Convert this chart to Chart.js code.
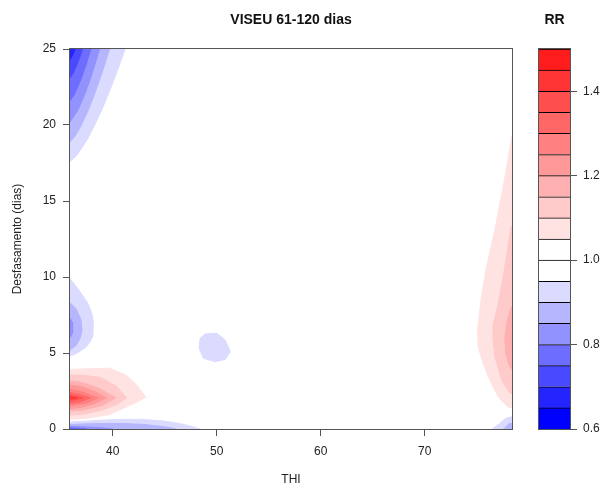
<!DOCTYPE html>
<html>
<head>
<meta charset="utf-8">
<script src="https://cdn.jsdelivr.net/npm/chart.js@4.4.1/dist/chart.umd.min.js"></script>
<style>
  html, body { margin: 0; padding: 0; background: #fff; }
  #wrap { position: relative; width: 608px; height: 486px; }
  #main { position: absolute; left: 0; top: 0; }
  #bar { position: absolute; left: 520px; top: 0; }
</style>
</head>
<body>
<div id="wrap">
  <canvas id="main" width="608" height="486"></canvas>
  <canvas id="bar" width="88" height="486"></canvas>
</div>
<script>
// RR contour breaks and fill colours (one colour per band, bottom to top)
const rrBreaks = [0.6, 0.65, 0.7, 0.75, 0.8, 0.85, 0.9, 0.95, 1.0, 1.05,
                  1.1, 1.15, 1.2, 1.25, 1.3, 1.35, 1.4, 1.45, 1.5];
const rrColors = ['#0000FF', '#2424FF', '#4949FF', '#6D6DFF', '#9292FF', '#B6B6FF', '#DBDBFF',
                  '#FFFFFF', '#FFFFFF',
                  '#FFE3E3', '#FFCACA', '#FFB1B1', '#FF9898', '#FF8080', '#FF6767', '#FF4E4E', '#FF3535', '#FF1C1C'];

const thiTicks = [40, 50, 60, 70];
const lagTicks = [0, 5, 10, 15, 20, 25];
const rrTicks = [0.6, 0.8, 1.0, 1.2, 1.4];

// contour regions: [band index, [[THI, lag], ...]], outer level first
const topLeftBlue = [
  [6, [[35, 26], [41.7, 26], [41.2, 25], [40.68, 24], [40.14, 23], [39.57, 22], [38.96, 21], [38.28, 20], [37.52, 19], [36.55, 18], [35.9, 17.6], [35, 17.6]]],
  [5, [[35, 26], [40.1, 26], [39.7, 25], [39.25, 24], [38.76, 23], [38.24, 22], [37.67, 21], [37.0, 20], [36.42, 19.3], [35.9, 18.9], [35, 18.9]]],
  [4, [[35, 26], [39.1, 26], [38.75, 25], [38.31, 24], [37.84, 23], [37.31, 22], [36.68, 21], [35.9, 20.2], [35, 20.2]]],
  [3, [[35, 26], [38.2, 26], [37.9, 25], [37.46, 24], [36.95, 23], [36.31, 22], [35.9, 21.6], [35, 21.6]]],
  [2, [[35, 26], [37.3, 26], [37.1, 25], [36.86, 24.5], [36.59, 24], [36.27, 23.5], [35.9, 23.1], [35, 23.1]]],
  [1, [[35, 26], [36.5, 26], [36.4, 25], [36.15, 24.6], [35.9, 24.3], [35, 24.3]]]
];
const leftMidBlue = [
  [6, [[35, 10], [35.9, 9.9], [36.8, 9.1], [37.6, 8.3], [38.0, 7.6], [38.15, 7.0], [38.1, 6.1], [37.8, 5.7], [37.45, 5.4], [36.5, 4.95], [35.9, 4.8], [35, 4.8]]],
  [5, [[35, 8.4], [35.9, 8.3], [36.5, 7.9], [36.95, 7.2], [37.05, 6.5], [36.9, 6.0], [36.5, 5.5], [35.9, 5.2], [35, 5.2]]],
  [4, [[35, 7.3], [35.9, 7.3], [36.15, 7.0], [36.15, 6.3], [35.9, 6.0], [35, 6.0]]]
];
const lowLagRed = [
  [9, [[35, 3.9], [37, 3.95], [39.7, 4.0], [41.3, 3.55], [42.3, 2.9], [43.2, 2.1], [42.3, 1.75], [41.3, 1.45], [39.7, 0.95], [37.5, 0.7], [35, 0.6]]],
  [10, [[35, 3.55], [37, 3.55], [38.8, 3.4], [40.3, 2.85], [41.35, 2.05], [40.4, 1.6], [38.8, 1.2], [37, 0.95], [35, 0.9]]],
  [11, [[35, 3.2], [36.8, 3.1], [38.6, 2.7], [40.3, 2.05], [39.0, 1.55], [37.2, 1.25], [35, 1.15]]],
  [12, [[35, 2.95], [37, 2.8], [38.3, 2.45], [39.4, 2.05], [38.2, 1.65], [36.8, 1.4], [35, 1.3]]],
  [13, [[35, 2.7], [36.8, 2.5], [38.6, 2.05], [37.5, 1.7], [35, 1.45]]],
  [14, [[35, 2.5], [36.6, 2.3], [37.85, 2.05], [36.8, 1.75], [35, 1.6]]],
  [15, [[35, 2.35], [37.15, 2.05], [35, 1.7]]],
  [16, [[35, 2.2], [36.55, 2.05], [35, 1.85]]]
];
const lowLagBlue = [
  [6, [[35, -1], [35, 0.42], [37, 0.5], [39, 0.58], [41, 0.64], [43, 0.63], [45, 0.52], [46.5, 0.35], [47.7, 0.15], [48.4, 0], [48.4, -1]]],
  [5, [[35, -1], [35, 0.27], [37, 0.33], [39, 0.36], [41, 0.36], [43, 0.3], [45, 0.15], [46.1, 0], [46.1, -1]]],
  [4, [[35, -1], [35, 0.18], [36.5, 0.17], [38, 0.12], [39.5, 0.05], [40, 0], [40, -1]]],
  [3, [[35, -1], [35, 0.1], [36.5, 0.06], [37.5, 0], [37.5, -1]]]
];
const thi50Blue = [
  [6, [[48.89, 6.25], [50.02, 6.3], [50.83, 5.86], [51.31, 5.09], [50.83, 4.58], [49.86, 4.43], [48.73, 4.65], [48.31, 5.31], [48.41, 5.97]]]
];
const highThiRed = [
  [9, [[80, 19.3], [78.4, 19.3], [77.7, 16.5], [76.75, 13.1], [75.9, 10.5], [75.46, 8.7], [75.08, 6.5], [75.14, 5.4], [75.63, 4.3], [76.27, 3.2], [77.08, 2.1], [78.0, 1.45], [80, 1.2]]],
  [10, [[80, 13.3], [78.3, 13.3], [77.9, 11.5], [77.5, 9.8], [77.0, 8.0], [76.6, 6.95], [76.6, 5.8], [76.75, 4.75], [77.4, 3.2], [78.2, 2.35], [80, 2.2]]],
  [11, [[80, 8.2], [78.3, 8.0], [77.9, 7.0], [77.7, 6.0], [77.8, 5.0], [78.1, 4.2], [78.4, 3.9], [80, 3.8]]]
];
const cornerBlue = [
  [6, [[76.5, -1], [76.5, 0], [77.2, 0.35], [77.8, 0.7], [78.3, 0.8], [80, 0.8], [80, -1]]],
  [5, [[77.6, -1], [77.6, 0], [78.1, 0.35], [80, 0.45], [80, -1]]]
];

const fam = "'Liberation Sans', Arial, sans-serif";
const ink = '#222';
Chart.defaults.font.family = fam;

const datasets = [];
[topLeftBlue, leftMidBlue, lowLagRed, lowLagBlue, thi50Blue, highThiRed, cornerBlue].forEach(region => {
  region.forEach(([band, pts]) => {
    datasets.push({
      data: pts.concat([pts[0]]).map(([x, y]) => ({ x, y })),
      showLine: true,
      fill: 'shape',
      backgroundColor: rrColors[band],
      borderColor: rrColors[band],
      borderWidth: 1,
      pointRadius: 0,
      tension: 0,
      clip: 0
    });
  });
});
// Chart.js paints the first dataset last, so inner levels go first
datasets.reverse();

// box round the plotting area
const frame = {
  id: 'frame',
  afterDatasetsDraw(chart) {
    const { ctx, chartArea: a } = chart;
    ctx.save();
    ctx.strokeStyle = '#555';
    ctx.lineWidth = 1;
    ctx.strokeRect(a.left - 0.5, a.top - 0.5, a.right - a.left + 1, a.bottom - a.top + 1);
    ctx.restore();
  }
};

const titleOpts = (text) => ({
  display: true, text: text, fullSize: false, color: '#111',
  font: { size: 14, weight: 'bold', lineHeight: 1.2 },
  padding: { top: 12, bottom: 20.2 }
});

new Chart(document.getElementById('main'), {
  type: 'scatter',
  data: { datasets: datasets },
  options: {
    responsive: false,
    animation: false,
    events: [],
    layout: { padding: { left: 0, right: 96, top: 0, bottom: 0 } },
    plugins: {
      legend: { display: false },
      tooltip: { enabled: false },
      title: titleOpts('VISEU 61-120 dias')
    },
    scales: {
      x: {
        type: 'linear', min: 35.9, max: 78.4,
        afterBuildTicks: s => { s.ticks = thiTicks.map(v => ({ value: v })); },
        afterFit: s => { s.height = 57; },
        grid: { drawOnChartArea: false, tickLength: 7, color: '#555' },
        border: { display: false },
        ticks: { color: ink, font: { size: 12 }, padding: 8, maxRotation: 0, autoSkip: false },
        title: { display: true, text: 'THI', color: ink, font: { size: 12, lineHeight: 1 }, padding: { top: 0, bottom: 0 } }
      },
      y: {
        type: 'linear', min: 0, max: 25,
        afterBuildTicks: s => { s.ticks = lagTicks.map(v => ({ value: v })); },
        afterFit: s => { s.width = 70; },
        grid: { drawOnChartArea: false, tickLength: 7, color: '#555' },
        border: { display: false },
        ticks: { color: ink, font: { size: 12 }, padding: 7 },
        title: { display: true, text: 'Desfasamento (dias)', color: ink, font: { size: 12, lineHeight: 1.2 }, padding: { top: 10.8 } }
      }
    }
  },
  plugins: [frame]
});

// colour key
const keySets = rrColors.map((c, i) => ({
  data: [[rrBreaks[i], rrBreaks[i + 1]]],
  backgroundColor: c,
  borderColor: '#000',
  borderWidth: { top: 1, right: 0, bottom: 0, left: 0 },
  borderSkipped: false,
  grouped: false,
  barPercentage: 1,
  categoryPercentage: 1
}));

new Chart(document.getElementById('bar'), {
  type: 'bar',
  data: { labels: ['RR'], datasets: keySets },
  options: {
    responsive: false,
    animation: false,
    events: [],
    layout: { padding: { left: 19, right: 0, top: 0, bottom: 57 } },
    plugins: {
      legend: { display: false },
      tooltip: { enabled: false },
      title: titleOpts('RR')
    },
    scales: {
      x: { display: false },
      y: {
        position: 'right', min: 0.6, max: 1.5,
        afterBuildTicks: s => { s.ticks = rrTicks.map(v => ({ value: v })); },
        afterFit: s => { s.width = 38; },
        grid: { drawOnChartArea: false, tickLength: 7, color: '#555' },
        border: { display: false },
        ticks: { color: ink, font: { size: 12 }, padding: 6, callback: v => Number(v).toFixed(1) }
      }
    }
  },
  plugins: [frame]
});
</script>
</body>
</html>
